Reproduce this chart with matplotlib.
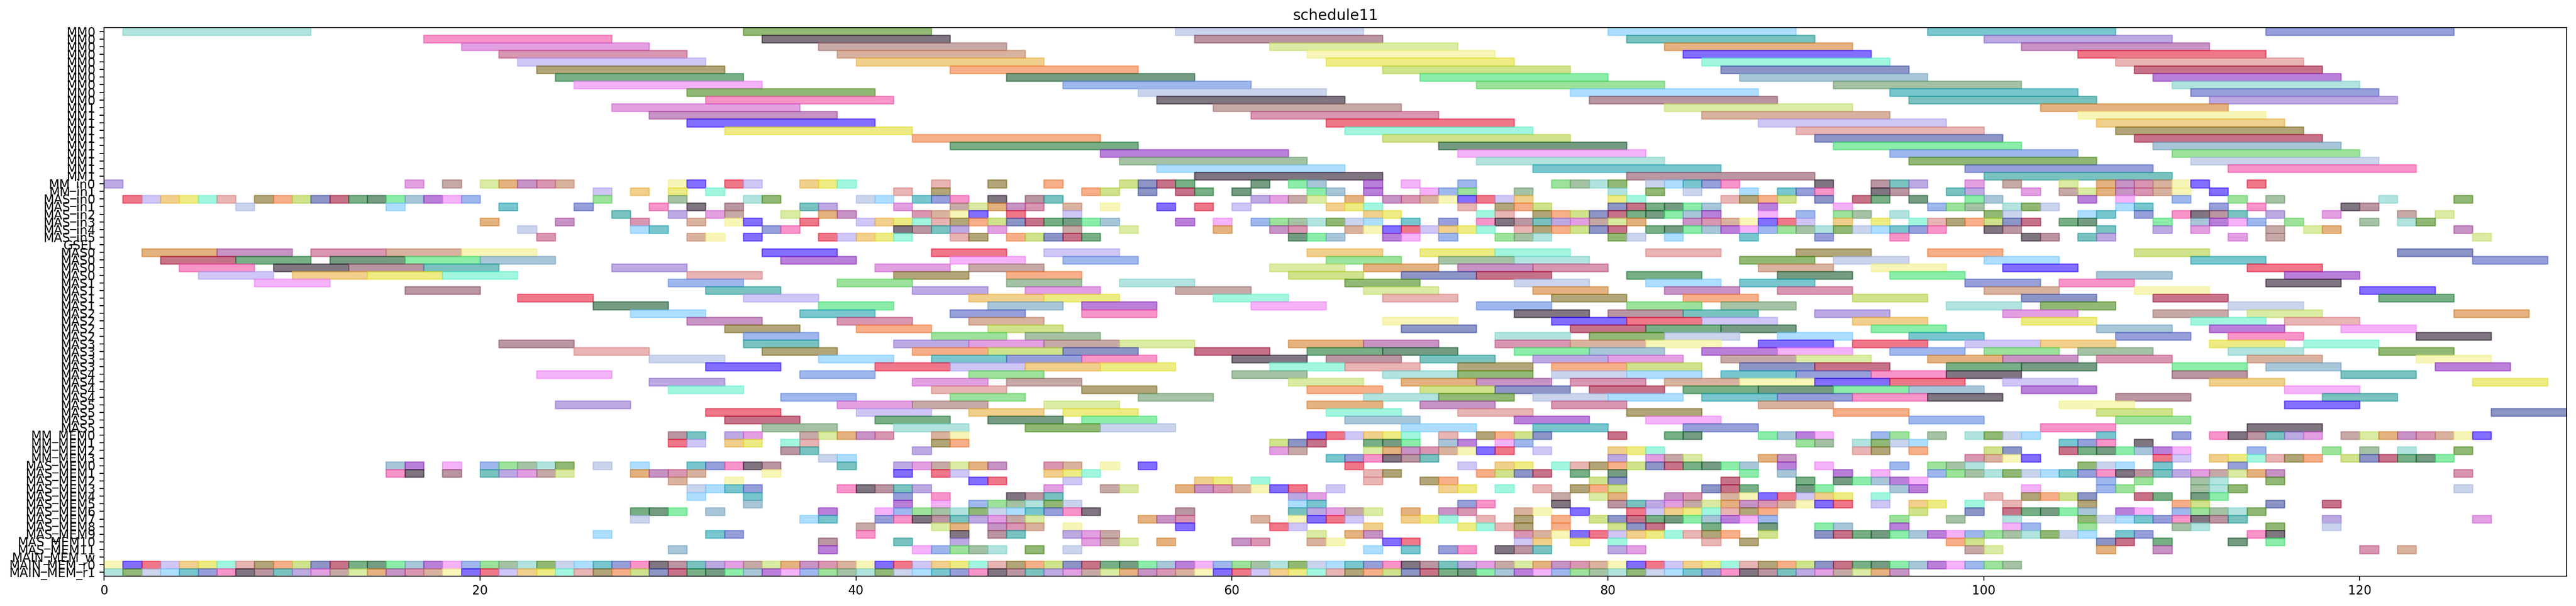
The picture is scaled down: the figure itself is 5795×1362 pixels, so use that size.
import matplotlib
matplotlib.use('Agg')
import matplotlib.pyplot as plt

# row labels, top to bottom
row_labels = (['MM0'] * 10 + ['MM1'] * 10 + ['MM_in0', 'MM_in1']
              + ['MAS_in%d' % i for i in range(6)] + ['GSEL']
              + ['MAS%d' % (i // 4) for i in range(24)]
              + ['MM_MEM%d' % i for i in range(4)]
              + ['MAS_MEM%d' % i for i in range(12)]
              + ['MAIN_MEM_w', 'MAIN_MEM_r0', 'MAIN_MEM_r1'])

# MM0 / MM1 task starts (10 time units each)
mm_dur = 10
mm_starts = [
    [1, 34, 57, 80, 97, 115],
    [17, 35, 58, 81, 100],
    [19, 38, 62, 83, 102],
    [21, 39, 64, 84, 105],
    [22, 40, 65, 85, 107],
    [23, 45, 68, 86, 108],
    [24, 48, 70, 87, 109],
    [25, 51, 73, 92, 110],
    [31, 55, 78, 95, 111],
    [32, 56, 79, 96, 112],
    [27, 59, 83, 103],
    [29, 61, 85, 105],
    [31, 65, 88, 106],
    [33, 66, 90, 107],
    [43, 68, 91, 108],
    [45, 71, 92, 109],
    [53, 72, 95, 110],
    [54, 73, 96, 111],
    [56, 76, 99, 113],
    [58, 81, 100],
]

# MM_in / MAS_in transfers (1 unit each)
io_dur = 1
io_starts = [
    [0, 16, 18, 20, 21, 22, 23, 24, 30, 31, 33, 34, 37, 38, 39, 44, 47, 50, 54, 55, 56, 57, 61, 63, 64,
     67, 69, 72, 77, 78, 79, 80, 82, 83, 84, 85, 86, 91, 94, 95, 96, 99, 101, 104, 106, 107, 108, 109,
     110, 111, 114],
    [26, 28, 30, 32, 42, 44, 52, 53, 55, 57, 58, 60, 64, 65, 67, 70, 71, 72, 75, 80, 82, 84, 87, 89, 90,
     91, 94, 95, 98, 99, 102, 104, 105, 106, 107, 108, 109, 110, 112],
    [1, 2, 3, 4, 5, 6, 8, 9, 10, 11, 12, 13, 14, 15, 16, 17, 18, 19, 26, 30, 34, 35, 40, 41, 43, 44, 45,
     47, 49, 50, 61, 62, 63, 64, 66, 68, 69, 70, 71, 72, 73, 74, 75, 80, 81, 86, 87, 88, 89, 91, 93, 94,
     96, 99, 100, 105, 107, 110, 113, 115, 121, 125],
    [7, 15, 21, 25, 29, 31, 33, 37, 38, 42, 45, 46, 47, 48, 49, 51, 53, 56, 58, 60, 65, 66, 67, 72, 74,
     75, 76, 80, 81, 82, 83, 84, 85, 88, 92, 97, 98, 99, 101, 102, 103, 107, 108, 112, 114, 119, 120],
    [27, 30, 32, 33, 36, 38, 39, 43, 44, 45, 46, 48, 51, 67, 68, 73, 74, 76, 77, 78, 79, 80, 81, 82, 83,
     84, 85, 88, 90, 92, 93, 95, 100, 101, 105, 106, 108, 110, 111, 112, 113, 115, 118, 122, 124],
    [20, 24, 28, 31, 33, 34, 37, 40, 41, 42, 43, 44, 45, 46, 47, 48, 49, 50, 51, 52, 53, 57, 59, 61, 62,
     63, 64, 65, 66, 67, 69, 71, 73, 74, 75, 76, 77, 78, 79, 80, 81, 84, 85, 86, 87, 88, 89, 90, 92, 94,
     96, 97, 98, 99, 100, 101, 102, 104, 105, 109, 111, 112, 113, 114, 116, 120, 122, 123],
    [22, 28, 29, 35, 36, 42, 43, 44, 45, 47, 51, 54, 59, 62, 63, 66, 67, 68, 69, 70, 71, 72, 73, 75, 76,
     77, 78, 79, 80, 82, 83, 84, 85, 86, 87, 88, 89, 90, 91, 92, 93, 94, 95, 96, 97, 100, 101, 106, 109,
     111, 115, 117, 118, 125],
    [23, 31, 32, 34, 38, 39, 40, 41, 42, 45, 46, 48, 49, 50, 51, 52, 63, 64, 65, 68, 69, 71, 74, 75, 76,
     80, 81, 83, 87, 91, 95, 102, 103, 105, 106, 113, 115, 126],
]

gsel_starts = []

# MAS0..MAS5 tasks (4 units each)
mas_dur = 4
mas_starts = [
    [2, 6, 11, 15, 19, 35, 44, 50, 64, 70, 74, 82, 90, 97, 108, 122],
    [3, 7, 12, 16, 20, 36, 45, 51, 65, 71, 75, 87, 92, 100, 111, 126],
    [4, 9, 13, 17, 27, 41, 46, 62, 67, 72, 76, 88, 94, 101, 114],
    [5, 10, 14, 18, 31, 42, 48, 63, 69, 73, 81, 89, 95, 106, 116],
    [8, 30, 39, 48, 54, 66, 75, 82, 87, 99, 104, 115],
    [16, 32, 43, 49, 57, 67, 76, 83, 89, 100, 108, 120],
    [22, 34, 46, 50, 59, 68, 77, 84, 93, 102, 109, 121],
    [26, 38, 47, 52, 61, 73, 81, 86, 98, 103, 113],
    [28, 37, 45, 52, 75, 80, 84, 91, 101, 109, 114, 125],
    [31, 39, 46, 68, 77, 81, 85, 93, 102, 111, 116],
    [33, 40, 47, 69, 78, 82, 86, 94, 106, 112, 119],
    [34, 44, 49, 74, 79, 83, 89, 96, 107, 113, 123],
    [21, 34, 42, 46, 50, 54, 63, 67, 74, 78, 82, 88, 93, 99, 103, 112, 117],
    [25, 35, 43, 47, 51, 58, 64, 68, 75, 79, 85, 89, 95, 100, 105, 113, 121],
    [29, 38, 44, 48, 52, 60, 65, 70, 76, 80, 86, 90, 97, 101, 106, 114, 123],
    [32, 41, 45, 49, 53, 62, 66, 72, 77, 81, 87, 91, 98, 102, 110, 115, 124],
    [23, 37, 46, 60, 68, 72, 77, 81, 86, 90, 94, 98, 110, 119],
    [29, 43, 48, 63, 69, 73, 78, 83, 87, 91, 95, 101, 112, 126],
    [30, 44, 52, 64, 70, 74, 79, 84, 88, 92, 96, 102, 116],
    [36, 45, 55, 67, 71, 76, 80, 85, 89, 93, 97, 107, 118],
    [24, 39, 43, 50, 64, 70, 77, 88, 104, 116],
    [32, 40, 46, 51, 65, 72, 81, 92, 106, 127],
    [33, 41, 47, 52, 66, 75, 82, 96, 107],
    [35, 42, 49, 53, 69, 76, 84, 103, 114],
]

# MM_MEM / MAS_MEM accesses (1 unit each)
mem_dur = 1
mem_starts = [
    [30, 31, 33, 34, 37, 38, 39, 40, 41, 44, 45, 64, 65, 66, 67, 68, 69, 71, 73, 74, 75, 76, 80, 83, 84,
     88, 89, 90, 91, 94, 95, 97, 99, 100, 101, 102, 106, 110, 112, 113, 114, 115, 116, 117, 119, 120, 121,
     122, 123, 124, 125, 126],
    [30, 31, 33, 34, 36, 37, 44, 45, 62, 63, 64, 67, 68, 69, 71, 72, 74, 75, 90, 91, 93, 94, 95, 96, 104,
     105, 106, 108],
    [36, 37, 43, 62, 63, 67, 68, 69, 70, 71, 72, 73, 74, 76, 80, 81, 82, 93, 94, 96, 100, 101, 104, 105,
     106, 107, 108, 109, 110, 114, 118, 120, 122, 125],
    [38, 39, 65, 66, 67, 68, 69, 70, 80, 82, 83, 84, 88, 89, 99, 100, 101, 102, 109, 110, 112, 113, 114,
     115, 116, 117, 119, 120, 121, 122, 123, 124],
    [15, 16, 18, 20, 21, 22, 23, 24, 26, 28, 31, 32, 33, 34, 35, 39, 42, 43, 44, 45, 46, 47, 50, 51, 53,
     55, 66, 72, 74, 75, 77, 78, 79, 80, 81, 82, 83, 84, 85, 86, 87, 89, 91, 95, 97, 98, 99, 105, 106, 107,
     109, 113],
    [15, 16, 18, 20, 21, 22, 23, 24, 28, 29, 30, 31, 35, 42, 44, 45, 50, 51, 52, 67, 68, 73, 74, 75, 76,
     78, 80, 87, 89, 92, 94, 97, 98, 99, 100, 101, 102, 103, 104, 105, 106, 107, 108, 109, 110, 111, 112,
     113, 114, 115, 125],
    [30, 33, 46, 47, 51, 58, 59, 61, 67, 70, 71, 79, 80, 86, 90, 92, 93, 94, 95, 96, 106, 108, 111, 112,
     115],
    [31, 32, 33, 34, 39, 40, 41, 42, 43, 50, 53, 54, 57, 58, 59, 60, 61, 62, 63, 65, 71, 72, 74, 76, 78,
     79, 80, 85, 86, 87, 90, 91, 95, 96, 102, 106, 107, 111, 112, 113, 125],
    [31, 34, 42, 44, 48, 49, 50, 63, 64, 77, 79, 80, 83, 84, 86, 87, 88, 89, 90, 91, 92, 94, 100, 102,
     103, 104, 105, 108, 109, 111, 112],
    [34, 42, 44, 46, 47, 48, 49, 50, 51, 63, 64, 72, 73, 77, 80, 81, 82, 83, 84, 85, 86, 87, 88, 89, 90,
     91, 92, 94, 96, 97, 99, 101, 105, 110, 111, 115, 118],
    [28, 29, 30, 32, 38, 41, 42, 43, 44, 45, 46, 47, 48, 49, 50, 51, 52, 57, 63, 64, 65, 66, 67, 69, 71,
     72, 75, 76, 78, 81, 82, 83, 84, 85, 86, 87, 88, 96, 99, 101, 102, 103, 104, 105, 107, 108, 110, 111,
     112, 113, 114],
    [28, 37, 38, 41, 42, 43, 44, 45, 46, 47, 48, 49, 55, 56, 57, 61, 63, 64, 65, 66, 69, 70, 71, 73, 75,
     77, 79, 80, 81, 82, 83, 84, 85, 86, 87, 88, 95, 98, 101, 105, 106, 107, 108, 109, 110, 111, 112, 113,
     118, 126],
    [40, 44, 45, 47, 48, 49, 51, 57, 62, 63, 67, 72, 73, 74, 75, 77, 80, 81, 82, 85, 88, 91, 92, 95, 101,
     102, 105, 110, 111, 115, 118],
    [26, 32, 33, 40, 45, 47, 48, 51, 52, 53, 64, 66, 67, 75, 76, 77, 78, 79, 80, 81, 82, 83, 84, 85, 86,
     88, 91, 92, 93, 94, 95, 96, 97, 98, 99, 100, 101, 102, 103, 104, 105, 107, 108, 114, 115],
    [38, 42, 45, 52, 53, 54, 56, 60, 61, 64, 65, 68, 69, 75, 76, 78, 80, 85, 87, 98, 99, 106, 107, 109,
     113, 115],
    [30, 38, 43, 44, 45, 46, 47, 49, 51, 67, 69, 71, 72, 74, 75, 76, 80, 81, 99, 100, 106, 109, 120, 122],
]

# MAIN_MEM write / read ports (1 unit each)
main_dur = 1
main_w_starts = []
main_r0_starts = list(range(0, 102))
main_r1_starts = list(range(0, 96))

all_starts = (mm_starts + io_starts + [gsel_starts] + mas_starts + mem_starts
              + [main_w_starts, main_r0_starts, main_r1_starts])
all_durs = ([mm_dur] * len(mm_starts) + [io_dur] * len(io_starts) + [io_dur]
            + [mas_dur] * len(mas_starts) + [mem_dur] * len(mem_starts) + [main_dur] * 3)

palette = ['#7fd1cb', '#e2de30', '#f24ea6', '#404fa0', '#a0706d', '#8c2cc0', '#f2f08a', '#4a8a1a',
           '#64f0cc', '#2b1b2e', '#a1163a', '#c2de68', '#ee80f4', '#3010ff', '#a8b8e0', '#d98282',
           '#8d4f64', '#1f7a38', '#d2802c', '#6088e0', '#e51c3c', '#78c8ff', '#7d6a20', '#229a96',
           '#1a5a30', '#a24b9e', '#5ad05a', '#b0a0f0', '#20a0b0', '#f07a3a', '#9070d0', '#40e070',
           '#c05080', '#6a9a6a', '#e8b040', '#5060c0', '#b0d040', '#d060d0', '#70a0c0', '#c08060']

fig = plt.figure(figsize=(28.975, 6.81), dpi=200)
ax = fig.add_axes([0.0404, 0.0492, 0.9559, 0.9053])

k = 0
for row, (starts, dur) in enumerate(zip(all_starts, all_durs)):
    if len(starts) == 0:
        continue
    colors = []
    for s in starts:
        colors.append(palette[(k * 7) % len(palette)])
        k += 1
    ax.broken_barh([(s, dur) for s in starts], (row - 0.5, 1),
                   facecolors=colors, edgecolors=colors, alpha=0.6, linewidth=1)

end_max = max(s + d for starts, d in zip(all_starts, all_durs) for s in starts)
ax.set_xlim(0, end_max)
ax.set_ylim(len(row_labels) - 0.5, -0.5)
ax.set_yticks(range(len(row_labels)))
ax.set_yticklabels(row_labels)
ax.set_title('schedule11')

fig.savefig('out.png', dpi=200)
